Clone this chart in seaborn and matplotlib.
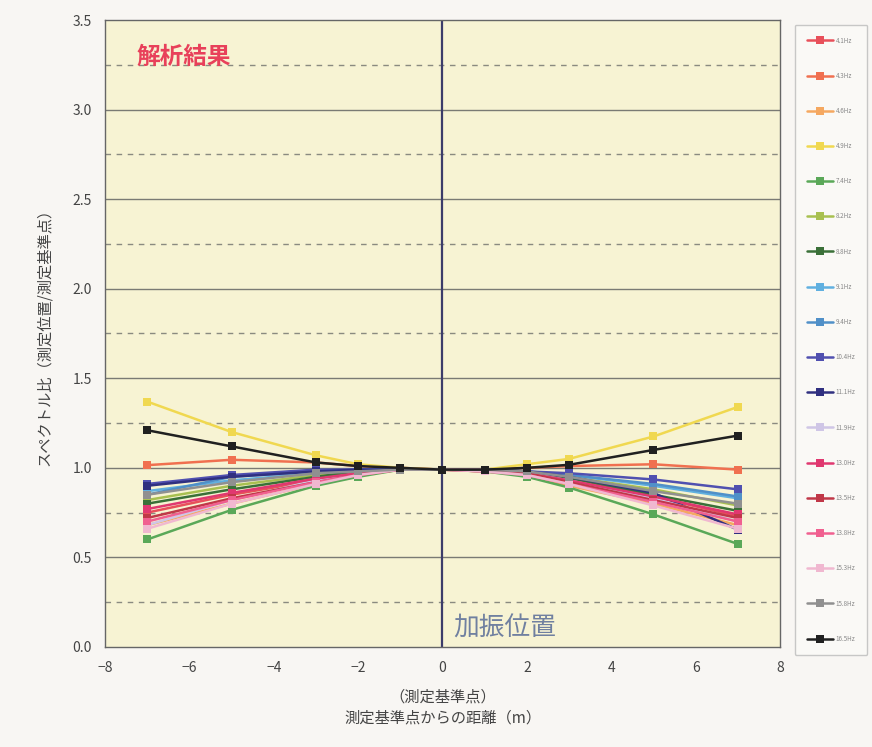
import matplotlib
matplotlib.use("Agg")
import matplotlib.pyplot as plt
import seaborn as sns
import pandas as pd
import numpy as np
from matplotlib.ticker import MultipleLocator, FormatStrFormatter

sns.set_theme(style="white")
plt.rcParams['font.family'] = ['Noto Sans CJK JP', 'DejaVu Sans']

positions = [-7, -5, -3, -2, -1, 0, 1, 2, 3, 5, 7]
freqs = ["4.1Hz", "4.3Hz", "4.6Hz", "4.9Hz", "7.4Hz", "8.2Hz", "8.8Hz", "9.1Hz", "9.4Hz",
         "10.4Hz", "11.1Hz", "11.9Hz", "13.0Hz", "13.5Hz", "13.8Hz", "15.3Hz", "15.8Hz", "16.5Hz"]
colors = ["#e8505a", "#f07050", "#f5a860", "#f0d850", "#5aa858", "#a8c050", "#3a7038", "#60b0e0",
          "#5090c8", "#5050b0", "#303080", "#cfc6e6", "#e03870", "#c03848", "#f06090", "#f0b8d0",
          "#909090", "#202020"]
r_41 = [0.75, 0.85, 0.93, 0.97, 0.99, 0.99, 0.99, 0.97, 0.93, 0.84, 0.73]
r_43 = [1.015, 1.045, 1.03, 1.01, 1.00, 0.99, 0.99, 1.00, 1.01, 1.02, 0.99]
r_46 = [0.68, 0.80, 0.91, 0.96, 0.99, 0.99, 0.98, 0.96, 0.90, 0.80, 0.68]
r_49 = [1.37, 1.20, 1.07, 1.02, 1.00, 0.99, 0.99, 1.02, 1.05, 1.175, 1.34]
r_74 = [0.60, 0.765, 0.90, 0.95, 0.99, 0.99, 0.98, 0.95, 0.89, 0.74, 0.575]
r_82 = [0.82, 0.90, 0.96, 0.98, 0.99, 0.99, 0.99, 0.98, 0.95, 0.88, 0.79]
r_88 = [0.80, 0.88, 0.95, 0.98, 0.99, 0.99, 0.99, 0.97, 0.94, 0.85, 0.76]
r_91 = [0.87, 0.93, 0.97, 0.99, 0.99, 0.99, 0.99, 0.98, 0.96, 0.90, 0.83]
r_94 = [0.85, 0.95, 0.98, 0.99, 0.99, 0.99, 0.99, 0.98, 0.96, 0.91, 0.84]
r_104 = [0.91, 0.96, 0.99, 0.99, 0.99, 0.99, 0.99, 0.98, 0.97, 0.935, 0.88]
r_111 = [0.90, 0.95, 0.98, 0.99, 0.99, 0.99, 0.99, 0.98, 0.95, 0.86, 0.655]
r_119 = [0.68, 0.82, 0.93, 0.97, 0.99, 0.99, 0.99, 0.97, 0.93, 0.83, 0.70]
r_130 = [0.77, 0.86, 0.94, 0.97, 0.99, 0.99, 0.99, 0.97, 0.93, 0.84, 0.74]
r_135 = [0.72, 0.83, 0.92, 0.96, 0.99, 0.99, 0.98, 0.97, 0.92, 0.82, 0.72]
r_138 = [0.70, 0.82, 0.92, 0.96, 0.99, 0.99, 0.98, 0.96, 0.91, 0.81, 0.70]
r_153 = [0.66, 0.80, 0.91, 0.96, 0.99, 0.99, 0.98, 0.96, 0.91, 0.79, 0.66]
r_158 = [0.85, 0.92, 0.97, 0.98, 0.99, 0.99, 0.99, 0.98, 0.95, 0.87, 0.80]
r_165 = [1.21, 1.12, 1.03, 1.01, 1.00, 0.99, 0.99, 1.00, 1.017, 1.10, 1.18]
series = [r_41, r_43, r_46, r_49, r_74, r_82, r_88, r_91, r_94, r_104, r_111, r_119,
          r_130, r_135, r_138, r_153, r_158, r_165]

rows = []
for f, vals in zip(freqs, series):
    for p, v in zip(positions, vals):
        rows.append({"pos": p, "ratio": v, "freq": f})
df = pd.DataFrame(rows)

fig = plt.figure(figsize=(8.72, 7.47), dpi=100, facecolor="#f8f6f3")
ax = fig.add_axes([0.1204, 0.1339, 0.7741, 0.8393])
ax.set_facecolor("#f7f3d3")

# grid lines
for yv in np.arange(0.5, 3.5, 0.5):
    ax.axhline(yv, color="#7a7a74", lw=1.0, zorder=1)
for yv in np.arange(0.25, 3.5, 0.5):
    ax.axhline(yv, color="#8a8a80", lw=1.0, ls=(0, (4, 4)), zorder=1)
ax.axvline(0, color="#3c3c6a", lw=1.6, zorder=1)

sns.lineplot(data=df, x="pos", y="ratio", hue="freq", hue_order=freqs, palette=colors,
             marker="s", markersize=6, markeredgewidth=0, linewidth=1.8, ax=ax,
             legend=True, zorder=3)

ax.set_xlim(-8, 8)
ax.set_ylim(0, 3.5)
ax.xaxis.set_major_locator(MultipleLocator(2))
ax.xaxis.set_minor_locator(MultipleLocator(1))
ax.yaxis.set_major_locator(MultipleLocator(0.5))
ax.yaxis.set_major_formatter(FormatStrFormatter("%.1f"))
ax.tick_params(axis="both", labelsize=10, colors="#444444")
ax.tick_params(axis="x", which="both", direction="in", length=4, color="#777777")
ax.tick_params(axis="x", which="major", pad=10)
for s in ax.spines.values():
    s.set_color("#666666")
    s.set_linewidth(1.0)

ax.set_xlabel("（測定基準点）\n測定基準点からの距離（m）", fontsize=11, color="#444444", labelpad=10,
              linespacing=1.3)
ax.set_ylabel("スペクトル比（測定位置/測定基準点）", fontsize=11, color="#444444", labelpad=14)

ax.text(0.047, 0.96, "解析結果", transform=ax.transAxes, fontsize=17, fontweight="bold",
        color="#e8405a", ha="left", va="top")
ax.text(0.25, 0.1, "加振位置", fontsize=18.5, color="#7080a0", ha="left", va="center")

h, l = ax.get_legend_handles_labels()
ax.get_legend().remove()
leg = fig.legend(h, l, loc="upper left", bbox_to_anchor=(0.9117, 0.967), fontsize=4.5,
                 frameon=True, labelspacing=4.35, handlelength=4.2, borderpad=1.9,
                 handletextpad=0.4, borderaxespad=0)
leg.get_frame().set_facecolor("#fbfaf8")
leg.get_frame().set_edgecolor("#bbbbbb")
for t in leg.get_texts():
    t.set_color("#888888")

fig.savefig("out.png", dpi=100, facecolor=fig.get_facecolor())
